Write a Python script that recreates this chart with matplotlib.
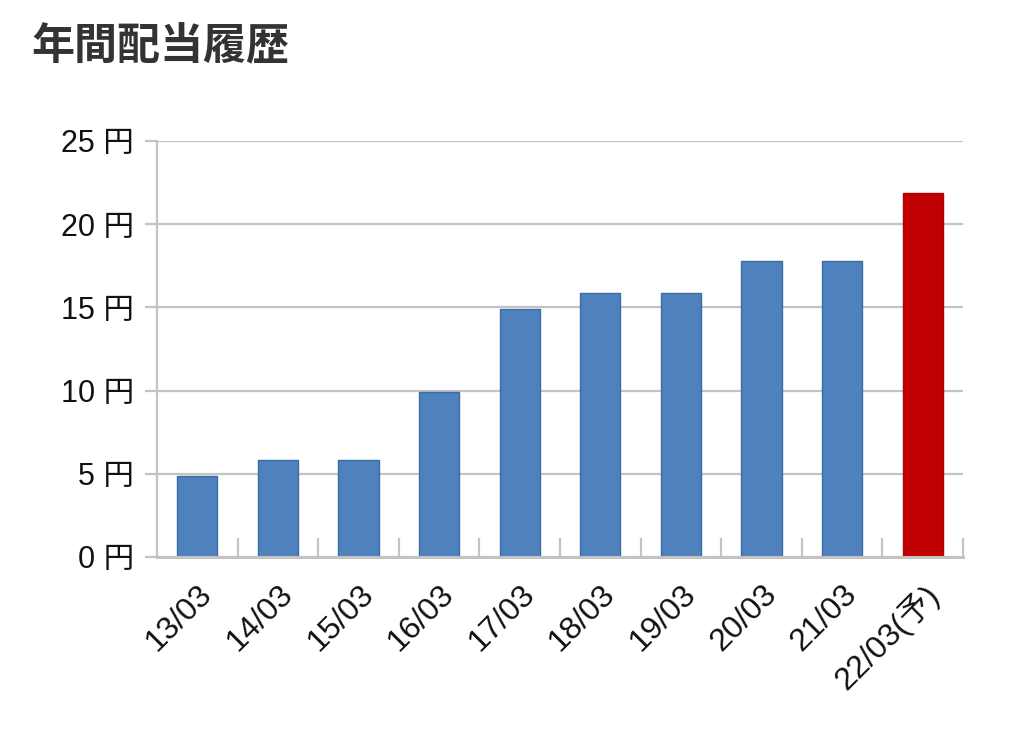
import numpy as np
import matplotlib
matplotlib.use("Agg")
import matplotlib.pyplot as plt

plt.rcParams['font.family'] = ['Liberation Sans', 'Noto Sans CJK JP', 'DejaVu Sans']

years = ['13/03', '14/03', '15/03', '16/03', '17/03', '18/03',
         '19/03', '20/03', '21/03', '22/03(予)']
dividend = [4.85, 5.8, 5.8, 9.9, 14.9, 15.85, 15.85, 17.8, 17.8, 21.85]
yticks = [0, 5, 10, 15, 20, 25]

blue = '#4f81bd'
red = '#c00000'
grid_c = '#c3c3c3'

fig = plt.figure(figsize=(10.24, 7.4), dpi=100)
ax = fig.add_axes([0.1533, 0.2473, 0.7871, 0.5622])

x = np.arange(len(years))
colors = [blue] * (len(years) - 1) + [red]
edges = ['#3a6ea8'] * (len(years) - 1) + ['#b00000']
ax.bar(x, dividend, width=0.5, color=colors, edgecolor=edges, linewidth=1, zorder=3)

ax.set_xlim(-0.5, len(years) - 0.5)
ax.set_ylim(0, 25)

ax.set_yticks(yticks)
ax.set_yticklabels([f'{v} 円' for v in yticks])
ax.yaxis.grid(True, color=grid_c, linewidth=1.6, zorder=0)
ax.tick_params(axis='y', length=8.5, width=1.6, color=grid_c, pad=8,
               labelsize=22, labelcolor='#111111')

ax.set_xticks(x)
ax.set_xticklabels(years, rotation=45, ha='right', rotation_mode='anchor')
ax.tick_params(axis='x', which='major', length=0, pad=16,
               labelsize=23, labelcolor='#111111')
ax.set_xticks(np.arange(0.5, len(years), 1), minor=True)
ax.tick_params(axis='x', which='minor', direction='in', length=14,
               width=1.6, color=grid_c)

for s in ['top', 'right']:
    ax.spines[s].set_visible(False)
ax.spines['left'].set_color(grid_c)
ax.spines['left'].set_linewidth(1.6)
ax.spines['bottom'].set_color(grid_c)
ax.spines['bottom'].set_linewidth(2.2)
ax.spines['bottom'].set_zorder(4)

fig.text(0.031, 0.938, '年間配当履歴', fontsize=31, fontweight='bold',
         color='#333333', ha='left', va='center',
         family=['Noto Sans CJK JP', 'DejaVu Sans'])

fig.savefig('out.png', dpi=100)
